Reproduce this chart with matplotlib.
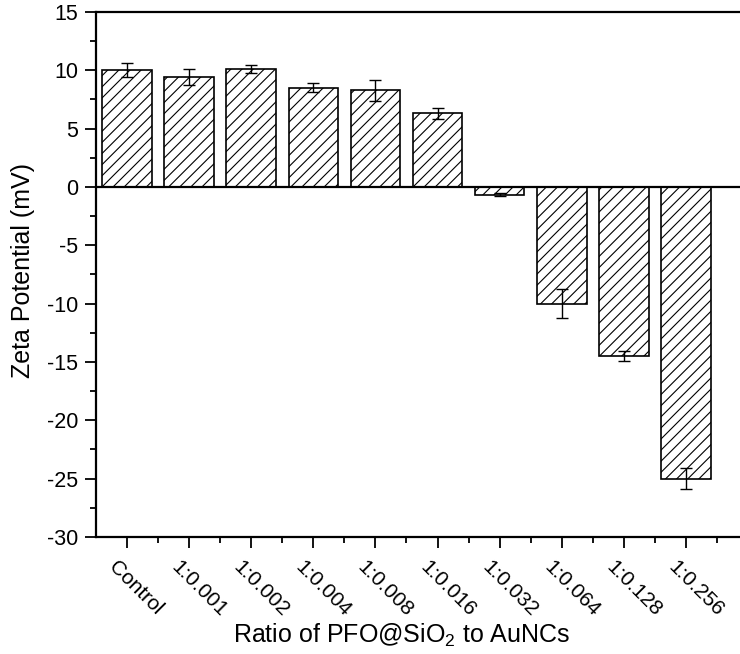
import matplotlib
matplotlib.use("Agg")
import matplotlib.pyplot as plt
from matplotlib.ticker import MultipleLocator, FixedLocator
from matplotlib.transforms import ScaledTranslation

plt.rcParams['font.family'] = ['Liberation Sans', 'DejaVu Sans']
plt.rcParams['mathtext.fontset'] = 'custom'
plt.rcParams['mathtext.rm'] = 'Liberation Sans'
plt.rcParams['mathtext.it'] = 'Liberation Sans:italic'
plt.rcParams['axes.unicode_minus'] = False
plt.rcParams['hatch.linewidth'] = 0.8

categories = ['Control', '1:0.001', '1:0.002', '1:0.004', '1:0.008',
              '1:0.016', '1:0.032', '1:0.064', '1:0.128', '1:0.256']
zeta = [10.0, 9.4, 10.1, 8.5, 8.3, 6.3, -0.65, -10.0, -14.5, -25.0]
zeta_err = [0.6, 0.7, 0.35, 0.4, 0.9, 0.45, 0.15, 1.25, 0.4, 0.9]

W, H = 740, 654
fig = plt.figure(figsize=(W / 100, H / 100), dpi=100)
left, right, top, bottom = 96, 770, 12, 537
ax = fig.add_axes([left / W, 1 - bottom / H, (right - left) / W, (bottom - top) / H])

x = list(range(1, len(categories) + 1))
ax.bar(x, zeta, width=0.8, color='white', edgecolor='black', linewidth=1.2,
       hatch='///', zorder=2)
ax.errorbar(x, zeta, yerr=zeta_err, fmt='none', ecolor='black', elinewidth=1.0,
            capsize=4, capthick=1.0, zorder=3)
ax.axhline(0, color='black', linewidth=1.6, zorder=4)

spacing = 62.1
ax.set_xlim(0.5, 0.5 + (right - left) / spacing)
ax.set_ylim(-30, 15)

ax.set_xticks(x)
ax.set_xticklabels(categories, rotation=-45, ha='left', va='top',
                   rotation_mode='anchor', fontsize=15)
ax.xaxis.set_minor_locator(FixedLocator([i + 0.5 for i in x]))
ax.yaxis.set_major_locator(MultipleLocator(5))
ax.yaxis.set_minor_locator(MultipleLocator(2.5))
ax.tick_params(axis='both', which='major', direction='out', length=8, width=1.3,
               labelsize=15.5, pad=5)
ax.tick_params(axis='both', which='minor', direction='out', length=4.5, width=1.3)
ax.tick_params(axis='x', which='major', pad=3, labelsize=15)

offset = ScaledTranslation(-8 / 100, -5 / 100, fig.dpi_scale_trans)
for lab in ax.get_xticklabels():
    lab.set_transform(lab.get_transform() + offset)

for side in ['left', 'bottom', 'top']:
    ax.spines[side].set_linewidth(1.6)
ax.spines['right'].set_visible(False)

ax.set_ylabel('Zeta Potential (mV)', fontsize=18)
ax.set_xlabel(r'Ratio of PFO@SiO$_2$ to AuNCs', fontsize=18)
ax.xaxis.set_label_coords((402 - left) / (right - left), (bottom - 622) / (bottom - top))
ax.yaxis.set_label_coords((23 - left) / (right - left), (bottom - 270) / (bottom - top))
ax.yaxis.label.set_va('center')

fig.savefig('out.png', dpi=100)
